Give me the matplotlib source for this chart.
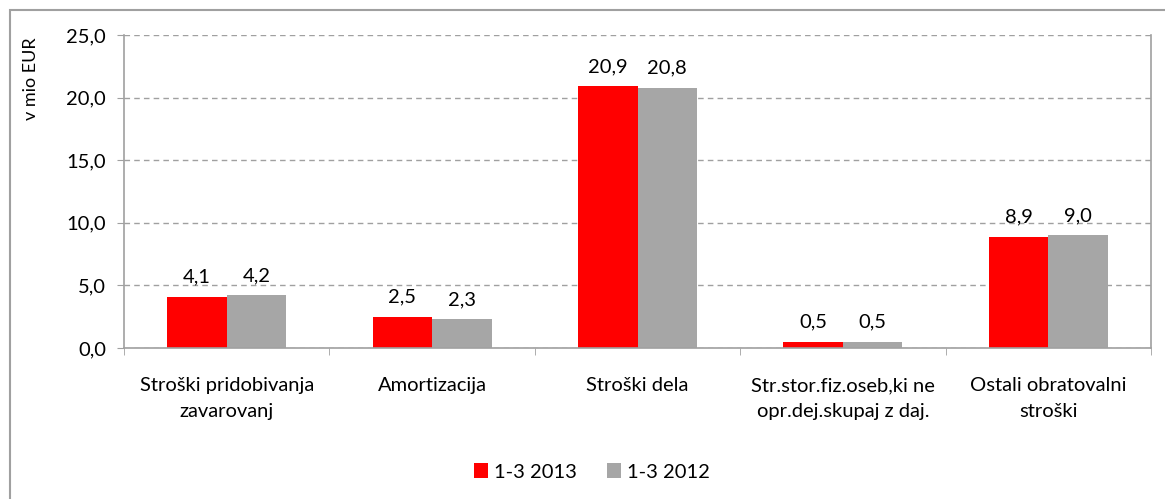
import numpy as np
import matplotlib.pyplot as plt
from matplotlib.patches import Rectangle

categories = ["Stroški pridobivanja\nzavarovanj", "Amortizacija", "Stroški dela",
              "Str.stor.fiz.oseb,ki ne\nopr.dej.skupaj z daj.", "Ostali obratovalni\nstroški"]
v2013 = [4.1, 2.5, 20.9, 0.5, 8.9]
v2012 = [4.2, 2.3, 20.8, 0.5, 9.0]
yticks = [0, 5, 10, 15, 20, 25]

plt.rcParams['font.family'] = ['Lato', 'DejaVu Sans']
fs = 14.5

fig = plt.figure(figsize=(11.65, 4.99), dpi=100)
ax = fig.add_axes([124/1165, 1-348/499, (1151-124)/1165, (348-35)/499])

# outer chart border
fig.patches.append(Rectangle((10/1165, -0.1), 1.2, 1.1 - 10/499, transform=fig.transFigure,
                             fill=False, edgecolor='#a0a0a0', linewidth=1.5))

x = np.arange(len(categories))
w = 0.29
b1 = ax.bar(x - w/2, v2013, w, color='#ff0000', label='1-3 2013')
b2 = ax.bar(x + w/2, v2012, w, color='#a6a6a6', label='1-3 2012')

for bars, vals in ((b1, v2013), (b2, v2012)):
    for r, v in zip(bars, vals):
        ax.text(r.get_x() + r.get_width()/2, v + 0.9, f"{v:.1f}".replace('.', ','),
                ha='center', va='bottom', fontsize=fs)

ax.set_xlim(-0.5, len(categories) - 0.5)
ax.set_ylim(0, 25)
ax.set_yticks(yticks)
ax.set_yticklabels([f"{t:.1f}".replace('.', ',') for t in yticks], fontsize=fs)
ax.yaxis.grid(True, linestyle=(0, (4, 3)), color='#a0a0a0', linewidth=1)
ax.set_axisbelow(True)
ax.set_xticks(x)
ax.set_xticklabels(categories, fontsize=fs, linespacing=1.6)
ax.set_xticks(np.arange(-0.5, len(categories)), minor=True)
ax.tick_params(axis='x', which='major', length=0, pad=21)
ax.tick_params(axis='x', which='minor', length=5, color='#a0a0a0')
ax.tick_params(axis='y', length=5, color='#a0a0a0', pad=8)
for s in ('left', 'bottom', 'right'):
    ax.spines[s].set_color('#a0a0a0')
    ax.spines[s].set_linewidth(1.2)
ax.spines['top'].set_visible(False)
ax.set_ylabel("v mio EUR", fontsize=13)
ax.yaxis.set_label_coords(-0.083, 0.86)

fig.legend(handles=[b1, b2], loc='center', bbox_to_anchor=(0.508, 1 - 472/499), ncol=2,
           frameon=False, fontsize=fs, handlelength=0.7, handleheight=0.7,
           handletextpad=0.3, columnspacing=1.5)

fig.savefig("out.png", dpi=100)
